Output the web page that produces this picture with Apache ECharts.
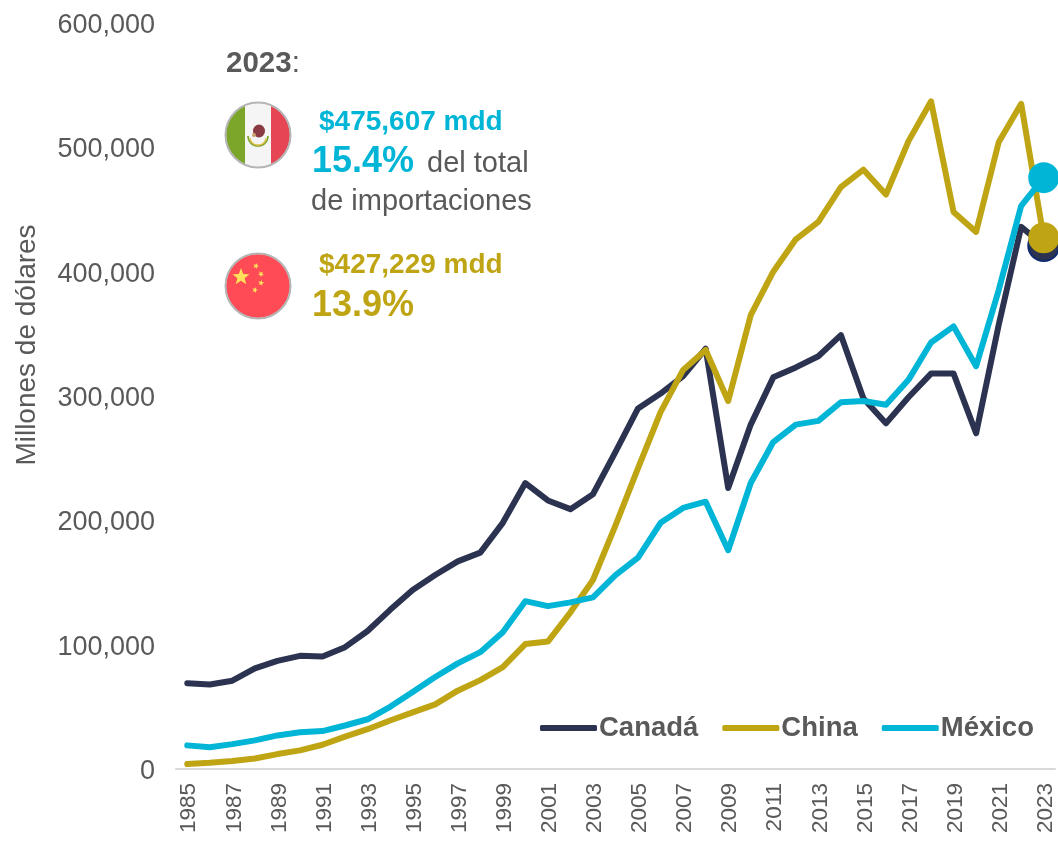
<!DOCTYPE html>
<html><head><meta charset="utf-8">
<style>html,body{margin:0;padding:0;background:#fff}#c{width:1058px;height:844px}</style>
<script src="https://cdn.jsdelivr.net/npm/echarts@6/dist/echarts.min.js"></script>
</head><body><div id="c"></div>
<script>
const years = [];
for (let y = 1985; y <= 2023; y++) years.push(String(y));
const canada = [69000,68000,71000,81000,87000,91000,90500,98000,111000,128000,144000,156000,167000,174000,198000,230000,216000,209000,221000,255000,290000,302000,316000,338000,226000,277000,315000,323000,332000,349000,298000,278000,299000,318000,318000,270000,357000,436000,421000];
const china = [4000,5000,6500,8500,12000,15000,19500,26000,32000,39000,45500,52000,63000,71500,82000,100500,102500,126000,152000,196000,242000,287000,321000,337000,296000,365000,400000,426000,440000,468000,482000,462000,505000,537000,448000,432000,504000,535000,427229];
const mexico = [19000,17500,20000,23000,27000,29500,30500,35000,40000,50000,62000,74000,85000,94000,110000,135000,131000,134000,138000,156000,170000,198000,210000,215000,176000,230000,263000,277000,280000,295000,296000,293000,313000,343000,356000,324000,385000,453000,475607];
const seriesNames = ['Canadá','China','México'];
const axisTitle = 'Millones de dólares';
const colors = {canada:'#2b3350', china:'#bfa514', mexico:'#00b5d6', text:'#595959', axis:'#d9d9d9'};
const font = '"Liberation Sans", Arial, sans-serif';

const flagMx = `<svg xmlns="http://www.w3.org/2000/svg" width="68" height="68" viewBox="0 0 68 68"><defs><clipPath id="a"><circle cx="34" cy="34" r="32"/></clipPath></defs><g clip-path="url(#a)"><rect width="68" height="68" fill="#f5f5f5"/><rect width="21" height="68" fill="#7ba62a"/><rect x="47" width="21" height="68" fill="#e64553"/><path d="M24 35a10 10 0 0 0 20 0" fill="none" stroke="#7ba62a" stroke-width="1.6"/><path d="M26 37a8 7 0 0 0 16 0" fill="none" stroke="#e2c04a" stroke-width="1.4"/><ellipse cx="35" cy="30" rx="6" ry="6.5" fill="#8a3a42"/><circle cx="30" cy="34" r="2" fill="#c9a06a"/></g><circle cx="34" cy="34" r="32.5" fill="none" stroke="#b5b5b5" stroke-width="2"/></svg>`;
function star(cx, cy, r, rot) {
  let d = '';
  for (let i = 0; i < 10; i++) {
    const R = i % 2 ? r * 0.42 : r, a = (rot - 90 + i * 36) * Math.PI / 180;
    d += (i ? 'L' : 'M') + (cx + R * Math.cos(a)).toFixed(2) + ' ' + (cy + R * Math.sin(a)).toFixed(2);
  }
  return `<path d="${d}Z" fill="#ffe15a"/>`;
}
const flagCn = `<svg xmlns="http://www.w3.org/2000/svg" width="68" height="68" viewBox="0 0 68 68"><circle cx="34" cy="34" r="32" fill="#ff4b55"/>${star(17,25,9,0)}${star(32,14,3.2,20)}${star(37,22,3.2,40)}${star(37,31,3.2,10)}${star(31,38,3.2,20)}<circle cx="34" cy="34" r="32.5" fill="none" stroke="#b5b5b5" stroke-width="2"/></svg>`;
const uri = s => 'data:image/svg+xml;charset=utf-8,' + encodeURIComponent(s);

const txt = (x, y, text, fill, size, weight) => ({
  type:'text', x, y, z:20,
  style:{text, fill, font:`${weight||'normal'} ${size}px ${font}`, textVerticalAlign:'middle', textBaseline:'middle'}
});

function lineSeries(name, data, color, markerBorder) {
  return {
    name, type:'line', data, symbol:'circle', symbolSize:(v,p)=>p.dataIndex===data.length-1?31:0,
    showSymbol:true, showAllSymbol:true, smooth:false, lineStyle:{color, width:6, cap:'round', join:'round'},
    itemStyle:{color, borderColor:markerBorder||color, borderWidth:markerBorder?2:0}, emphasis:{disabled:true}, silent:true,
    clip:false, animation:false
  };
}
const chart = echarts.init(document.getElementById('c'), null, {renderer:'canvas'});
chart.setOption({
  animation:false,
  grid:{left:176, right:3, top:23, bottom:75, outerBoundsMode:'none', containLabel:false},
  legend:{
    left:540, top:714, padding:0, itemGap:24, itemWidth:57, itemHeight:6, icon:'roundRect', selectedMode:false,
    itemStyle:{borderWidth:0},
    data:seriesNames, textStyle:{color:colors.text, fontFamily:font, fontWeight:'bold', fontSize:27.5, padding:[0,0,0,-3]}
  },
  xAxis:{type:'category', data:years, boundaryGap:true,
    axisLine:{lineStyle:{color:colors.axis, width:2}}, axisTick:{show:false},
    axisLabel:{interval:1, rotate:90, color:colors.text, fontFamily:font, fontSize:22.5, margin:14,
      formatter:v=>`{a|${v}}`, rich:{a:{fontFamily:font, fontSize:22.5, color:colors.text, padding:[4,0,0,0]}}}},
  yAxis:{type:'value', min:0, max:600000, interval:100000,
    splitLine:{show:false}, axisLine:{show:false}, axisTick:{show:false},
    axisLabel:{color:colors.text, fontFamily:font, fontSize:27, margin:21,
      formatter:v=>`{a|${v.toLocaleString('en-US')}}`, rich:{a:{fontFamily:font, fontSize:27, color:colors.text, padding:[5,0,0,0]}}}},
  series:[
    lineSeries(seriesNames[0], canada, colors.canada, '#0f2a6e'),
    lineSeries(seriesNames[1], china, colors.china),
    lineSeries(seriesNames[2], mexico, colors.mexico)
  ],
  graphic:[
    {type:'text', x:27, y:345, z:20, rotation:Math.PI/2, style:{text:axisTitle, fill:colors.text, font:`28px ${font}`, align:'center', verticalAlign:'middle', textAlign:'center', textVerticalAlign:'middle', textBaseline:'middle'}},
    {type:'text', x:226, y:64, z:20, style:{text:'{b|2023}{r|:}', textVerticalAlign:'middle', textBaseline:'middle',
      rich:{b:{fill:colors.text, font:`bold 29.5px ${font}`}, r:{fill:colors.text, font:`29.5px ${font}`}}}},
    {type:'image', x:224, y:101, z:20, style:{image:uri(flagMx), width:68, height:68}},
    {type:'image', x:224, y:252, z:20, style:{image:uri(flagCn), width:68, height:68}},
    txt(319,122,'$475,607 mdd',colors.mexico,28,'bold'),
    txt(312,162,'15.4%',colors.mexico,36,'bold'),
    txt(427,164,'del total',colors.text,29),
    txt(311,202,'de importaciones',colors.text,29),
    txt(319,265,'$427,229 mdd',colors.china,28,'bold'),
    txt(312,306,'13.9%',colors.china,36,'bold')
  ]
});
</script></body></html>
